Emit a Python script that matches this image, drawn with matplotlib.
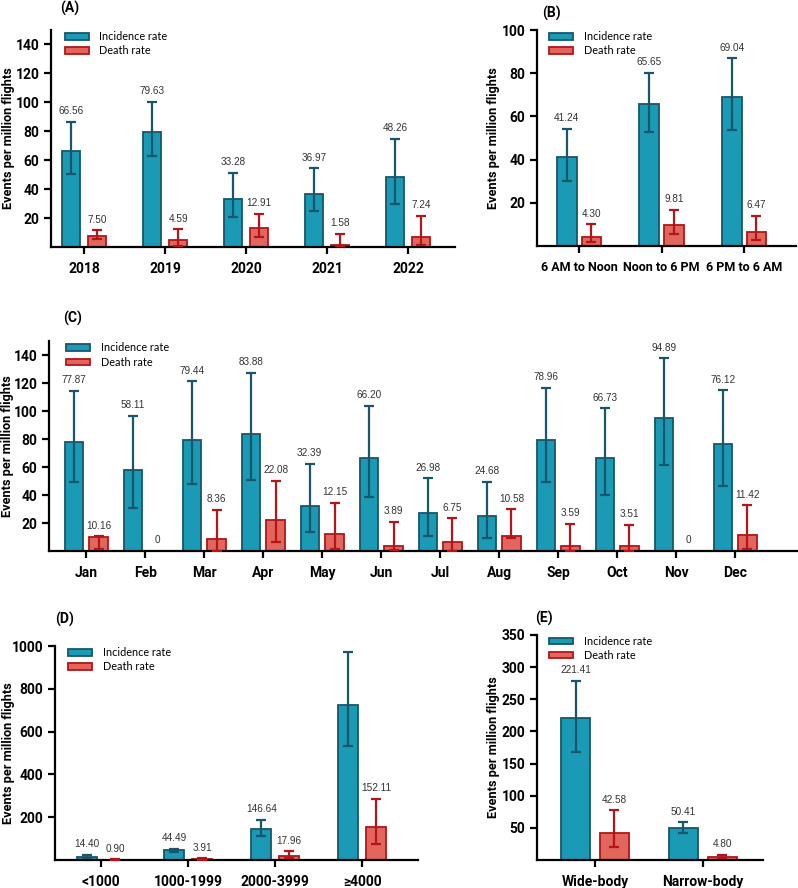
import matplotlib
matplotlib.use('Agg')
import matplotlib.pyplot as plt
from matplotlib.patches import Patch

# (A) by year
years = ['2018', '2019', '2020', '2021', '2022']
year_inc = [66.56, 79.63, 33.28, 36.97, 48.26]
year_inc_lo = [50.8, 63.0, 20.7, 24.9, 29.7]
year_inc_hi = [86.4, 100.3, 51.2, 54.5, 74.9]
year_death = [7.50, 4.59, 12.91, 1.58, 7.24]
year_death_lo = [5.4, 1.0, 7.0, 0.5, 1.7]
year_death_hi = [11.7, 12.1, 22.8, 9.1, 21.4]

# (B) by time of day
times = ['6 AM to Noon', 'Noon to 6 PM', '6 PM to 6 AM']
time_inc = [41.24, 65.65, 69.04]
time_inc_lo = [30.2, 52.9, 53.5]
time_inc_hi = [54.2, 80.1, 87.0]
time_death = [4.30, 9.81, 6.47]
time_death_lo = [1.7, 5.4, 2.6]
time_death_hi = [10.0, 16.7, 14.0]

# (C) by month
months = ['Jan', 'Feb', 'Mar', 'Apr', 'May', 'Jun',
          'Jul', 'Aug', 'Sep', 'Oct', 'Nov', 'Dec']
month_inc = [77.87, 58.11, 79.44, 83.88, 32.39, 66.20, 26.98, 24.68, 78.96, 66.73, 94.89, 76.12]
month_inc_lo = [49.5, 31.0, 48.0, 50.7, 13.6, 38.6, 11.0, 9.0, 49.5, 40.0, 61.4, 46.7]
month_inc_hi = [114.3, 96.7, 121.2, 127.4, 62.4, 103.6, 51.9, 49.5, 116.7, 101.9, 137.6, 114.8]
month_death = [10.16, 0, 8.36, 22.08, 12.15, 3.89, 6.75, 10.58, 3.59, 3.51, 0, 11.42]
month_death_lo = [1.4, 0, 0.3, 6.7, 1.7, 0.7, 0.3, 9.5, 0.2, 0.2, 0, 1.7]
month_death_hi = [10.5, 0, 29.3, 50.3, 34.5, 20.7, 23.3, 29.8, 19.3, 18.8, 0, 32.6]

# (D) by flight distance
distances = ['<1000', '1000-1999', '2000-3999', '≥4000']
dist_inc = [14.40, 44.49, 146.64, 725.0]
dist_inc_text = ['14.40', '44.49', '146.64', '']
dist_inc_lo = [8.0, 39.0, 112.0, 533.0]
dist_inc_hi = [23.4, 51.5, 188.6, 970.0]
dist_death = [0.90, 3.91, 17.96, 152.11]
dist_death_lo = [0.2, 1.0, 9.0, 73.0]
dist_death_hi = [2.5, 9.0, 40.5, 287.0]

# (E) by aircraft type
bodies = ['Wide-body', 'Narrow-body']
body_inc = [221.41, 50.41]
body_inc_lo = [168.5, 42.5]
body_inc_hi = [278.4, 59.0]
body_death = [42.58, 4.80]
body_death_lo = [20.7, 3.6]
body_death_hi = [77.3, 7.8]

W, H = 798, 888
TEAL, TEAL_DARK = '#1b9ab5', '#17566b'
RED, RED_DARK = '#e2665b', '#b3151a'
BOLD_FONT = 'Roboto'
LEG_FONT = 'Lato'
NUM_FONT = 'Liberation Sans'

fig = plt.figure(figsize=(W / 100, H / 100), dpi=100)


def px_axes(left, top, right, bottom):
    return fig.add_axes([left / W, 1 - bottom / H, (right - left) / W, (bottom - top) / H])


def draw_panel(ax, cats, inc, inc_lo, inc_hi, death, d_lo, d_hi,
               width, off, xlim, ylim, yticks, inc_text=None, xsize=10):
    x = list(range(len(cats)))
    xi = [v - off for v in x]
    xd = [v + off for v in x]
    ax.bar(xi, inc, width, color=TEAL, edgecolor=TEAL_DARK, linewidth=1.3, zorder=2)
    ax.bar(xd, death, width, color=RED, edgecolor=RED_DARK, linewidth=1.3, zorder=2)
    ax.errorbar(xi, inc, yerr=[[v - l for v, l in zip(inc, inc_lo)],
                               [h - v for v, h in zip(inc, inc_hi)]],
                fmt='none', ecolor=TEAL_DARK, elinewidth=1.6, capsize=3.8,
                capthick=1.6, zorder=3)
    keep = [i for i, v in enumerate(death) if v > 0]
    ax.errorbar([xd[i] for i in keep], [death[i] for i in keep],
                yerr=[[death[i] - d_lo[i] for i in keep],
                      [d_hi[i] - death[i] for i in keep]],
                fmt='none', ecolor=RED_DARK, elinewidth=1.6, capsize=3.8,
                capthick=1.6, zorder=3)
    for i in range(len(cats)):
        txt = inc_text[i] if inc_text else f'{inc[i]:.2f}'
        if txt:
            ax.annotate(txt, (xi[i], inc_hi[i]), xytext=(0, 4), textcoords='offset points',
                        ha='center', va='bottom', fontsize=7.2, color='#333333',
                        family=NUM_FONT)
        dtxt = f'{death[i]:.2f}' if death[i] > 0 else '0'
        ax.annotate(dtxt, (xd[i], d_hi[i]), xytext=(0, 4), textcoords='offset points',
                    ha='center', va='bottom', fontsize=7.2, color='#333333',
                    family=NUM_FONT)
    ax.set_xlim(*xlim)
    ax.set_ylim(*ylim)
    ax.set_yticks(yticks)
    ax.set_xticks(x)
    ax.set_xticklabels(cats)
    for s in ('top', 'right'):
        ax.spines[s].set_visible(False)
    for s in ('left', 'bottom'):
        ax.spines[s].set_linewidth(1.6)
    ax.tick_params(width=1.6, length=5)
    ax.tick_params(axis='x', pad=6)
    for lab in ax.get_yticklabels():
        lab.set_fontweight('bold')
        lab.set_family(BOLD_FONT)
        lab.set_fontsize(10)
    for lab in ax.get_xticklabels():
        lab.set_fontweight('bold')
        lab.set_family(BOLD_FONT)
        lab.set_fontsize(xsize)
    handles = [Patch(facecolor=TEAL, edgecolor=TEAL_DARK, linewidth=1.3, label='Incidence rate'),
               Patch(facecolor=RED, edgecolor=RED_DARK, linewidth=1.3, label='Death rate')]
    ax.legend(handles=handles, loc='upper left', bbox_to_anchor=(0.01, 1.04),
              frameon=False, handlelength=2.2, handleheight=0.55,
              handletextpad=1.0, labelspacing=0.3, prop={'family': LEG_FONT, 'size': 7.8})
    ax.set_ylabel('Events per million flights', fontsize=9.2, fontweight='bold',
                  family=BOLD_FONT)


def place_ylabel(ax, left, right, xpx):
    ax.yaxis.set_label_coords((xpx - left) / (right - left), 0.5)


# (A)
axA = px_axes(51, 30, 455, 247)
draw_panel(axA, years, year_inc, year_inc_lo, year_inc_hi,
           year_death, year_death_lo, year_death_hi,
           0.22, 0.16, (-0.41, 4.58), (0, 150), range(20, 141, 20))
place_ylabel(axA, 51, 455, 15)

# (B)
axB = px_axes(537, 30, 796, 246)
draw_panel(axB, times, time_inc, time_inc_lo, time_inc_hi,
           time_death, time_death_lo, time_death_hi,
           0.24, 0.15, (-0.51, 2.63), (0, 100), range(20, 101, 20), xsize=9)
place_ylabel(axB, 537, 796, 500)

# (C)
axC = px_axes(49, 341, 797, 551)
draw_panel(axC, months, month_inc, month_inc_lo, month_inc_hi,
           month_death, month_death_lo, month_death_hi,
           0.31, 0.21, (-0.63, 12.05), (0, 150), range(20, 141, 20))
place_ylabel(axC, 49, 797, 14)

# (D)
axD = px_axes(55, 646, 418, 860)
draw_panel(axD, distances, dist_inc, dist_inc_lo, dist_inc_hi,
           dist_death, dist_death_lo, dist_death_hi,
           0.23, 0.16, (-0.53, 3.64), (0, 1000), range(200, 1001, 200),
           inc_text=dist_inc_text)
place_ylabel(axD, 55, 418, 15)

# (E)
axE = px_axes(537, 635, 763, 860)
draw_panel(axE, bodies, body_inc, body_inc_lo, body_inc_hi,
           body_death, body_death_lo, body_death_hi,
           0.27, 0.18, (-0.54, 1.56), (0, 350), range(50, 351, 50))
place_ylabel(axE, 537, 763, 500)

# panel letters
for letter, xp, yp in [('(A)', 60, 8), ('(B)', 542, 13), ('(C)', 63, 318),
                       ('(D)', 55, 619), ('(E)', 535, 618)]:
    fig.text(xp / W, 1 - yp / H, letter, fontsize=10, fontweight='bold',
             family=BOLD_FONT, va='center', ha='left')

fig.savefig('out.png', dpi=100)
